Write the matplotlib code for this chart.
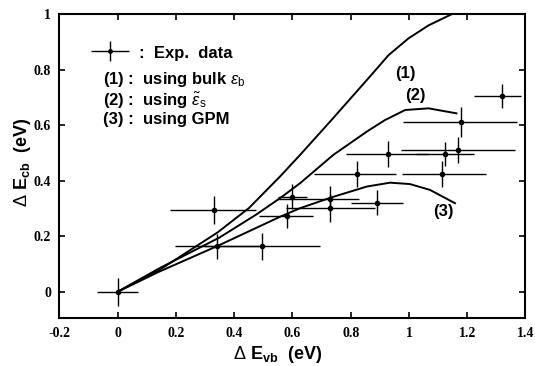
import numpy as np
import matplotlib
matplotlib.use('Agg')
import matplotlib.pyplot as plt
from matplotlib.ticker import FuncFormatter

plt.rcParams['axes.unicode_minus'] = False
plt.rcParams['mathtext.fontset'] = 'custom'
plt.rcParams['mathtext.rm'] = 'Liberation Sans'
plt.rcParams['mathtext.bf'] = 'Liberation Sans:bold'
plt.rcParams['mathtext.it'] = 'Liberation Sans:italic'

# experimental points: x, y, x error (left/right), y error
exp_x = [0.0, 0.33, 0.34, 0.495, 0.58, 0.60, 0.728, 0.728, 0.891, 0.822, 0.927, 1.115, 1.123, 1.167, 1.178, 1.32]
exp_y = [0.0, 0.295, 0.163, 0.163, 0.274, 0.343, 0.335, 0.303, 0.321, 0.424, 0.496, 0.424, 0.496, 0.51, 0.611, 0.705]
xerr_lo = [0.07, 0.15, 0.145, 0.2, 0.095, 0.05, 0.18, 0.15, 0.09, 0.149, 0.143, 0.14, 0.1, 0.195, 0.2, 0.096]
xerr_hi = [0.07, 0.145, 0.145, 0.2, 0.09, 0.05, 0.1, 0.154, 0.09, 0.135, 0.143, 0.148, 0.1, 0.197, 0.193, 0.065]
yerr = [0.05, 0.05, 0.045, 0.047, 0.043, 0.045, 0.045, 0.05, 0.046, 0.048, 0.048, 0.047, 0.042, 0.046, 0.054, 0.043]

# theory curves
c1_x = [0.0, 0.144, 0.342, 0.451, 0.557, 0.626, 0.734, 0.862, 0.930, 0.998, 1.067, 1.146]
c1_y = [0.0, 0.079, 0.213, 0.302, 0.415, 0.493, 0.619, 0.771, 0.853, 0.913, 0.960, 1.0]
c2_x = [0.0, 0.144, 0.349, 0.474, 0.557, 0.626, 0.740, 0.855, 0.918, 0.987, 1.067, 1.163]
c2_y = [0.0, 0.085, 0.195, 0.277, 0.337, 0.391, 0.493, 0.577, 0.619, 0.655, 0.661, 0.643]
c3_x = [0.0, 0.144, 0.343, 0.557, 0.626, 0.734, 0.855, 0.935, 1.003, 1.072, 1.158]
c3_y = [0.0, 0.073, 0.165, 0.270, 0.301, 0.340, 0.379, 0.393, 0.388, 0.367, 0.319]

xticks = [-0.2, 0, 0.2, 0.4, 0.6, 0.8, 1, 1.2, 1.4]
yticks = [0, 0.2, 0.4, 0.6, 0.8, 1]

fig = plt.figure(figsize=(5.35, 3.66), dpi=100)
ax = fig.add_axes([0.1112, 0.1303, 0.8710, 0.8306])

for cx, cy in [(c1_x, c1_y), (c2_x, c2_y), (c3_x, c3_y)]:
    ax.plot(cx, cy, color='black', lw=1.4)

ax.errorbar(exp_x, exp_y, xerr=[xerr_lo, xerr_hi], yerr=yerr, fmt='o', color='black',
            ms=3, elinewidth=1.0, capsize=0)

ax.text(0.986, 0.785, '(1)', fontsize=12, fontweight='bold', ha='center', va='center',
        family='Liberation Sans')
ax.text(1.021, 0.709, '(2)', fontsize=12, fontweight='bold', ha='center', va='center',
        family='Liberation Sans')
ax.text(1.118, 0.288, '(3)', fontsize=12, fontweight='bold', ha='center', va='center',
        family='Liberation Sans')

# legend block
ax.errorbar([0.1084], [0.880], xerr=[0.040], yerr=[0.033], fmt='o', color='black', ms=2.5,
            elinewidth=1.0, capsize=0, transform=ax.transAxes)
kw = dict(transform=ax.transAxes, fontsize=12, fontweight='bold', family='Liberation Sans',
          va='baseline', ha='left')
ax.text(0.171, 0.856, ':  Exp.  data', **kw)
ax.text(0.094, 0.770, r'(1) :  using bulk $\varepsilon_{\mathrm{b}}$', **kw)
ax.text(0.094, 0.698, r'(2) :  using $\tilde{\varepsilon}_{\mathrm{s}}$', **kw)
ax.text(0.094, 0.638, '(3) :  using GPM', **kw)

ax.set_xlim(-0.2, 1.4)
ax.set_ylim(-0.096, 1.0)
ax.set_xticks(xticks)
ax.set_yticks(yticks)
fmt = FuncFormatter(lambda v, p: '%g' % v)
ax.xaxis.set_major_formatter(fmt)
ax.yaxis.set_major_formatter(fmt)
ax.tick_params(direction='in', top=True, right=True, length=4, width=1.2, pad=6)
for lab in ax.get_xticklabels() + ax.get_yticklabels():
    lab.set_family('Liberation Serif')
    lab.set_fontweight('bold')
    lab.set_fontsize(10)
for s in ax.spines.values():
    s.set_linewidth(1.5)

ax.set_xlabel(r'$\Delta$ E$_{\mathbf{vb}}$  (eV)', fontsize=13, fontweight='bold',
              family='Liberation Sans')
ax.set_ylabel(r'$\Delta$ E$_{\mathbf{cb}}$  (eV)', fontsize=13, fontweight='bold',
              family='Liberation Sans')
ax.xaxis.set_label_coords((278 - 59.5) / 466, (318.3 - 344) / 304)
ax.yaxis.set_label_coords((33 - 59.5) / 466, (318.3 - 162) / 304)

fig.savefig('out.png', dpi=100)
